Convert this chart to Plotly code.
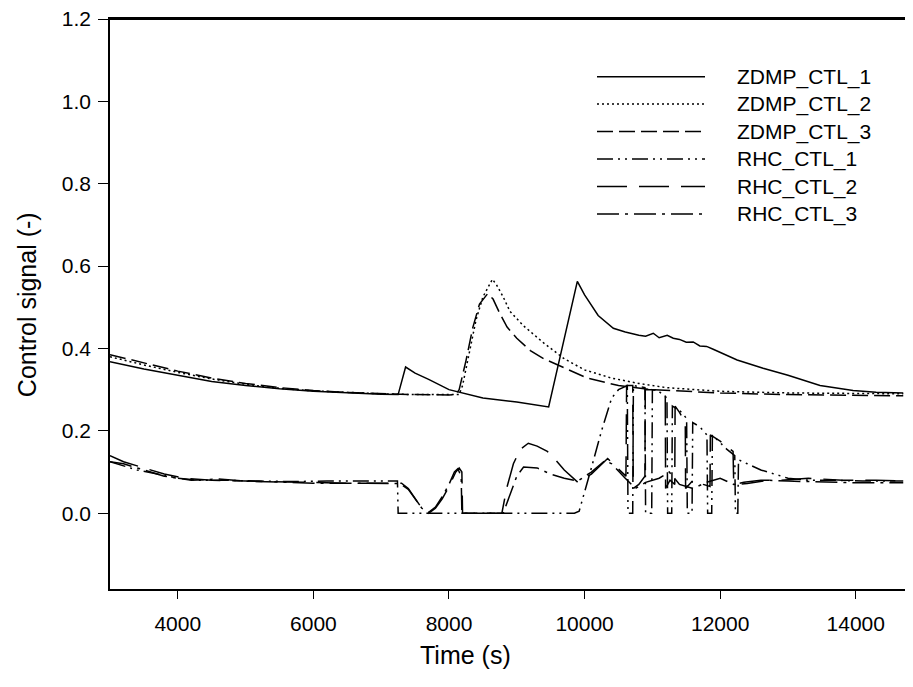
import plotly.graph_objects as go

# ---------------- data ----------------
t_zdmp1 = [3000, 3500, 4000, 4500, 5000, 5500, 6000, 6500, 7000, 7250,
           7300, 7360, 7500, 7700, 8000, 8500, 9000, 9470, 9893, 10000,
           10200, 10424, 10600, 10800, 10900, 11013, 11100, 11219, 11308, 11400,
           11500, 11602, 11700, 11800, 11897, 12000, 12250, 12633, 13000, 13473,
           13960, 14300, 14700]
zdmp1 = [0.368, 0.35, 0.335, 0.32, 0.31, 0.302, 0.296, 0.292, 0.289, 0.288,
         0.32, 0.355, 0.34, 0.325, 0.3, 0.28, 0.27, 0.258, 0.563, 0.53,
         0.48, 0.449, 0.44, 0.432, 0.43, 0.437, 0.426, 0.432, 0.425, 0.422,
         0.415, 0.416, 0.406, 0.405, 0.398, 0.39, 0.372, 0.352, 0.335, 0.31,
         0.298, 0.294, 0.292]

t_zdmp2 = [3000, 3500, 4000, 4500, 5000, 5500, 6000, 6500, 7000,
           7500, 8000, 8150, 8200, 8300, 8400, 8500, 8640, 8700, 8800,
           8900, 9100, 9400, 9700, 10000, 10400, 10800, 11200, 12000, 13000,
           14700]
zdmp2 = [0.38, 0.36, 0.342, 0.326, 0.313, 0.303, 0.297, 0.293, 0.29,
         0.288, 0.287, 0.288, 0.31, 0.39, 0.47, 0.525, 0.568, 0.555, 0.525,
         0.49, 0.455, 0.413, 0.375, 0.348, 0.328, 0.315, 0.305, 0.296, 0.292,
         0.29]

t_zdmp3 = [3000, 3500, 4000, 4500, 5000, 5500, 6000, 6500, 7000,
           7500, 8000, 8100, 8150, 8250, 8350, 8450, 8570, 8650, 8750,
           8857, 9000, 9200, 9400, 9600, 9800, 10040, 10500, 11000, 12000,
           13000, 14700]
zdmp3 = [0.385, 0.365, 0.345, 0.328, 0.315, 0.305, 0.298, 0.293, 0.29,
         0.288, 0.287, 0.288, 0.3, 0.37, 0.45, 0.508, 0.533, 0.52, 0.485,
         0.452, 0.425, 0.395, 0.375, 0.36, 0.345, 0.328, 0.31, 0.3, 0.292,
         0.288, 0.285]

t_rhc1 = [3000, 3200, 3400, 3700, 4000, 4300, 4700, 5200, 5700, 6200,
          6700, 7100, 7240, 7250, 9850, 9920, 10100, 10250, 10400, 10500,
          10630, 10640, 10710, 10720, 10890, 10900, 10990, 11000, 11100, 11215,
          11225, 11285, 11295, 11400, 11505, 11515, 11585, 11595, 11700, 11805,
          11815, 11875, 11885, 12000, 12100, 12215, 12225, 12260, 12270, 12400,
          12600, 12800, 13000, 13300, 13700, 14100, 14700]
rhc1 = [0.125, 0.115, 0.105, 0.095, 0.085, 0.08, 0.08, 0.078, 0.077, 0.078,
        0.077, 0.078, 0.078, 0.0, 0.0, 0.005, 0.11, 0.2, 0.28, 0.30,
        0.31, 0.0, 0.0, 0.31, 0.305, 0.0, 0.0, 0.30, 0.295, 0.28,
        0.0, 0.0, 0.26, 0.25, 0.23, 0.0, 0.0, 0.22, 0.21, 0.19,
        0.0, 0.0, 0.19, 0.17, 0.155, 0.14, 0.0, 0.0, 0.13, 0.12,
        0.105, 0.095, 0.085, 0.08, 0.08, 0.078, 0.078]

t_rhc2 = [3000, 3200, 3500, 3800, 4100, 4500, 5000, 5500, 6000, 6500,
          7000, 7300, 7400, 7500, 7600, 7700, 7800, 7900, 8000, 8100,
          8150, 8190, 8200, 8780, 8850, 8950, 9050, 9170, 9300, 9450,
          9570, 9700, 9900, 10100, 10340, 10450, 10610, 10620, 10710, 10718,
          10800, 10890, 10895, 11050, 11190, 11195, 11260, 11330, 11335, 11400,
          11485, 11490, 11600, 11750, 11850, 11855, 12000, 12190, 12200, 12350,
          12600, 12900, 13300, 13800, 14300, 14700]
rhc2 = [0.14, 0.125, 0.11, 0.095, 0.085, 0.08, 0.078, 0.076, 0.074, 0.073,
        0.073, 0.073, 0.06, 0.035, 0.012, 0.0, 0.012, 0.035, 0.065, 0.1,
        0.11, 0.1, 0.0, 0.0, 0.06, 0.12, 0.155, 0.17, 0.163, 0.15,
        0.13, 0.105, 0.075, 0.095, 0.133, 0.115, 0.09, 0.31, 0.31, 0.06,
        0.07, 0.09, 0.30, 0.30, 0.29, 0.06, 0.08, 0.07, 0.26, 0.245,
        0.22, 0.06, 0.08, 0.07, 0.065, 0.19, 0.175, 0.15, 0.07, 0.075,
        0.08, 0.08, 0.085, 0.08, 0.08, 0.078]

t_rhc3 = [3000, 3200, 3500, 3800, 4200, 4600, 5000, 5500, 6000, 6500,
          7000, 7280, 7400, 7500, 7600, 7700, 7800, 7900, 8000, 8080,
          8130, 8180, 8190, 8800, 8900, 9000, 9100, 9300, 9500, 9700,
          9900, 10100, 10300, 10400, 10600, 10750, 10900, 11100, 11250, 11400,
          11600, 11800, 12000, 12200, 12400, 12700, 13000, 13500, 14000, 14700]
rhc3 = [0.125, 0.12, 0.105, 0.09, 0.08, 0.083, 0.078, 0.075, 0.073, 0.073,
        0.072, 0.072, 0.058, 0.035, 0.012, 0.002, 0.015, 0.04, 0.07, 0.1,
        0.108, 0.09, 0.0, 0.0, 0.045, 0.09, 0.112, 0.11, 0.095, 0.085,
        0.078, 0.1, 0.128, 0.12, 0.085, 0.06, 0.075, 0.085, 0.1, 0.07,
        0.06, 0.075, 0.085, 0.07, 0.072, 0.08, 0.078, 0.076, 0.074, 0.074]

series_names = ["ZDMP_CTL_1", "ZDMP_CTL_2", "ZDMP_CTL_3",
                "RHC_CTL_1", "RHC_CTL_2", "RHC_CTL_3"]
x_tickvals = [4000, 6000, 8000, 10000, 12000, 14000]
y_tickvals = [0.0, 0.2, 0.4, 0.6, 0.8, 1.0, 1.2]

# ---------------- styling ----------------
OFF = 8  # default page body margin
W, H = 913 - OFF, 687 - 2 * OFF - 5
PLOT_L, PLOT_T, PLOT_B = 110, 19, 588.7  # page pixels
ML = PLOT_L - OFF
MT = PLOT_T - OFF
MB = H - (PLOT_B - OFF)
MR = 0
FONT = "Liberation Sans, Arial, sans-serif"
dashes = ["solid", "2px,3px", "16px,6px",
          "16px,5px,2px,5px,2px,5px", "30px,12px", "22px,6px,3px,6px"]
LW = 1.5

data = [(t_zdmp1, zdmp1), (t_zdmp2, zdmp2), (t_zdmp3, zdmp3),
        (t_rhc1, rhc1), (t_rhc2, rhc2), (t_rhc3, rhc3)]

fig = go.Figure()
for (tx, vy), name, d in zip(data, series_names, dashes):
    fig.add_trace(go.Scatter(x=tx, y=vy, mode="lines", name=name,
                             line=dict(color="black", width=LW, dash=d),
                             showlegend=False, cliponaxis=False))

pw = W - ML - MR
ph = H - MT - MB


def px2paper_x(px):  # page px -> paper
    return (px - OFF - ML) / pw


def px2paper_y(py):
    return (H - MB - (py - OFF)) / ph


# frame top line (drawn in data coordinates at the top of the range)
shapes = [dict(type="line", xref="x", yref="y", x0=3000, x1=14844, y0=1.2, y1=1.2,
               line=dict(color="black", width=1.8), layer="above")]
annotations = []

# manual legend
leg_y = [76.7, 104, 131.5, 159, 186.5, 214]
for name, d, yy in zip(series_names, dashes, leg_y):
    shapes.append(dict(type="line", xref="paper", yref="paper",
                       x0=px2paper_x(597), x1=px2paper_x(705),
                       y0=px2paper_y(yy), y1=px2paper_y(yy),
                       line=dict(color="black", width=LW, dash=d)))
    annotations.append(dict(xref="paper", yref="paper",
                            x=px2paper_x(735), y=px2paper_y(yy),
                            xanchor="left", yanchor="middle", showarrow=False,
                            text=name, font=dict(family=FONT, size=21, color="black")))

# axis titles
annotations.append(dict(xref="paper", yref="paper", x=px2paper_x(465), y=px2paper_y(655),
                        xanchor="center", yanchor="middle", showarrow=False,
                        text="Time (s)", font=dict(family=FONT, size=25, color="black")))
annotations.append(dict(xref="paper", yref="paper", x=px2paper_x(27), y=px2paper_y(305),
                        xanchor="center", yanchor="middle", showarrow=False, textangle=-90,
                        text="Control signal (-)", font=dict(family=FONT, size=25, color="black")))

fig.update_layout(
    width=W, height=H,
    margin=dict(l=ML, r=MR, t=MT, b=MB, pad=0),
    paper_bgcolor="white", plot_bgcolor="white",
    font=dict(family=FONT, size=21, color="black"),
    shapes=shapes, annotations=annotations,
    showlegend=False,
)
fig.update_xaxes(range=[3000, 14844], tickvals=x_tickvals,
                 ticktext=[str(v) for v in x_tickvals],
                 showline=True, linecolor="black", linewidth=1.5, mirror=True,
                 ticks="outside", ticklen=8, tickwidth=1.3, tickcolor="black",
                 ticklabelstandoff=7, ticklabeloverflow="allow",
                 showgrid=False, zeroline=False,
                 tickfont=dict(family=FONT, size=21, color="black"))
fig.update_yaxes(range=[-0.184, 1.2], tickvals=y_tickvals,
                 ticktext=["%.1f" % v for v in y_tickvals],
                 showline=True, linecolor="black", linewidth=1.5, mirror=False,
                 ticks="outside", ticklen=10, tickwidth=1.3, tickcolor="black",
                 ticklabelstandoff=3, ticklabeloverflow="allow",
                 showgrid=False, zeroline=False,
                 tickfont=dict(family=FONT, size=21, color="black"))

fig.write_html("out.html")
